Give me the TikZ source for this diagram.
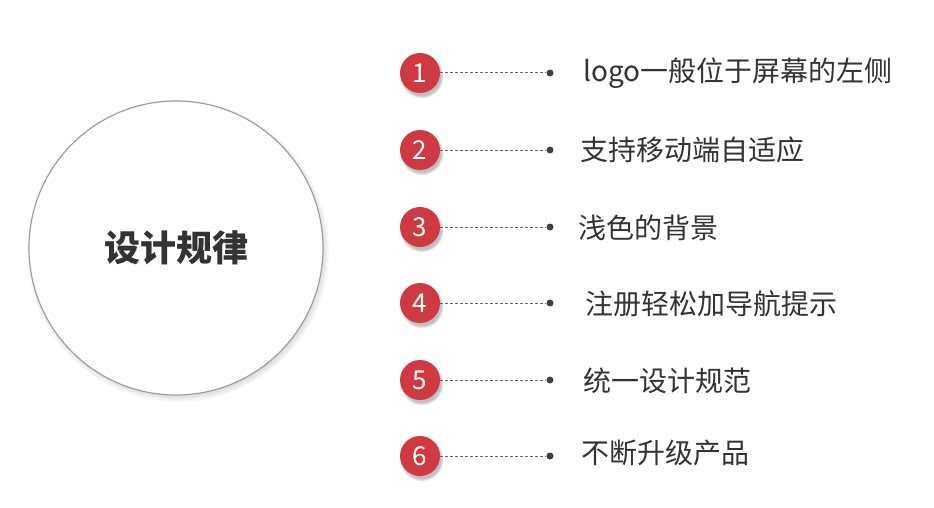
\documentclass[tikz,border=0pt]{standalone}
\usepackage{fontspec}
\setmainfont{Noto Sans CJK SC}
\usetikzlibrary{shadows}
\definecolor{numred}{RGB}{206,57,66}
\definecolor{txtgray}{RGB}{51,51,51}
\tikzset{every picture/.style={line width=0.75pt}}

\begin{document}
\begin{tikzpicture}[x=1pt,y=1pt,yscale=-1,xscale=1]
	\tikzset{
		bigdisc/.style={circle, fill=white, draw=black!38, line width=1.2pt, minimum size=294pt, inner sep=0pt, text=txtgray, font=\fontsize{36}{36}\selectfont\bfseries,
			circular drop shadow={shadow xshift=1.5pt, shadow yshift=-2.5pt, shadow scale=1.03, opacity=0.8}},
		numdisc/.style={circle, fill=numred, minimum size=40pt, inner sep=0pt, text=white, font=\fontsize{26}{26}\selectfont,
			circular drop shadow={shadow xshift=1.5pt, shadow yshift=-3pt, shadow scale=1.1, opacity=0.5}},
		enddot/.style={circle, fill=black!75, minimum size=7pt, inner sep=0pt},
		itemtext/.style={anchor=west, inner sep=0pt, text=txtgray, font=\fontsize{28}{28}\selectfont},
		leader/.style={dash pattern={on 3pt off 2pt}, color=black!60, line width=1pt}
	}
	%set diagram size
	\path[use as bounding box] (0,0) rectangle (934,508);
	
	%Shape: Circle [title]
	\node[bigdisc] (title) at (176,248) {设计规律};
	
	%Item 1
	\node[numdisc] (n1) at (420,73) {1};
	\node[enddot] (d1) at (550,73) {};
	\draw[leader] (n1) -- (d1);
	\node[itemtext] (t1) at (583,73) {logo一般位于屏幕的左侧};
	%Item 2
	\node[numdisc] (n2) at (420,150) {2};
	\node[enddot] (d2) at (550,150) {};
	\draw[leader] (n2) -- (d2);
	\node[itemtext] (t2) at (580,150) {支持移动端自适应};
	%Item 3
	\node[numdisc] (n3) at (420,227) {3};
	\node[enddot] (d3) at (550,227) {};
	\draw[leader] (n3) -- (d3);
	\node[itemtext] (t3) at (578,228) {浅色的背景};
	%Item 4
	\node[numdisc] (n4) at (420,303) {4};
	\node[enddot] (d4) at (550,303) {};
	\draw[leader] (n4) -- (d4);
	\node[itemtext] (t4) at (585,304) {注册轻松加导航提示};
	%Item 5
	\node[numdisc] (n5) at (420,380) {5};
	\node[enddot] (d5) at (550,380) {};
	\draw[leader] (n5) -- (d5);
	\node[itemtext] (t5) at (583,381) {统一设计规范};
	%Item 6
	\node[numdisc] (n6) at (420,456) {6};
	\node[enddot] (d6) at (550,456) {};
	\draw[leader] (n6) -- (d6);
	\node[itemtext] (t6) at (581,453) {不断升级产品};
	
\end{tikzpicture}
\end{document}
